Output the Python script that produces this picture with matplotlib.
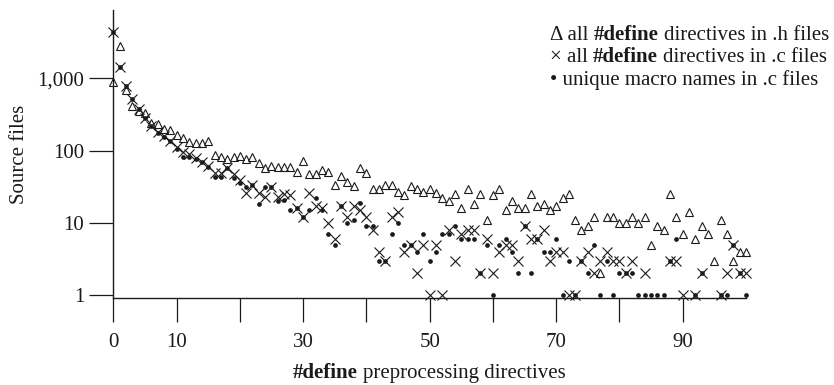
import numpy as np
import matplotlib
matplotlib.use("Agg")
import matplotlib.pyplot as plt
from matplotlib.ticker import FixedLocator, FixedFormatter, NullLocator
from matplotlib.offsetbox import TextArea, HPacker, AnnotationBbox

plt.rcParams['font.family'] = ['Liberation Serif', 'DejaVu Serif']

nan = np.nan
x = list(range(0, 101))

h_files = [900, 2800, 680, 415, 355, 330, 243, 234, 197, 193,
           164, 148, 133, 129, 126, 136, 88, 82, 76, 82,
           84, 76, 82, 68, 57, 61, 60, 60, 60, 51,
           72, 47, 48, 54, 51, 33, 45, 37, 32, 57,
           49, 29, 29, 33, 33, 27, 24, 32, 29, 27,
           29, 26, 22, 20, 25, 16, 29, 18, 25, 11,
           24, 29, 15, 20, 16, 16, 25, 17, 18, 15,
           17, 22, 25, 11, 8, 9, 12, 2, 12, 12,
           10, 10, 12, 10, 12, 5, 9, 8, 25, 12,
           7, 14, 6, 9, 7, 3, 11, 7, 3, 4,
           4]

c_files = [4400, 1450, 785, 519, 377, 286, 221, 180, 160, 138,
           113, 95, 90, 78, 69, 62, 49, 49, 57, 47,
           39, 26, 33, 26, 23, 31, 23, 25, 24, 16,
           12, 26, 17, 16, 10, 6, 17, 12, 17, 15,
           12, 8, 4, 3, 12, 14, 4, 5, 2, 5,
           1, 5, 1, 8, 3, 7, 8, 8, 2, 6,
           2, 4, 5, 5, 3, 9, 6, 6, 8, 3,
           4, 4, 1, 1, 3, 4, 2, 3, 4, 3,
           3, 2, 3, nan, 2, nan, nan, nan, 3, 3,
           1, nan, 1, 2, nan, nan, 1, 2, 5, 2,
           2]

c_unique = [4400, 1450, 785, 519, 377, 286, 221, 174, 156, 136,
            104, 81, 81, 77, 69, 60, 43, 43, 57, 42,
            36, 31, 33, 18, 31, 31, 20, 21, 15, 16,
            12, 15, 22, 15, 7, 5, 17, 10, 11, 19,
            9, 9, 3, 3, 7, 10, 5, 5, 4, 7,
            3, 4, 7, 7, 9, 6, 6, 6, 2, 5,
            1, 5, 6, 4, 2, 9, 2, 6, 4, 4,
            6, 1, 3, 1, 3, 2, 5, 1, 3, 1,
            2, 2, 2, 1, 1, 1, 1, 1, 3, 6,
            nan, nan, 1, 2, nan, nan, 1, 1, 5, 2,
            1]

x_ticks = [0, 10, 20, 30, 40, 50, 60, 70, 80, 90]
x_tick_labels = ['0', '10', '', '30', '', '50', '', '70', '', '90']
y_ticks = [1, 10, 100, 1000]
y_tick_labels = ['1', '10', '100', '1,000']

ink = '#1a1a1a'
FS = 15
fig = plt.figure(figsize=(8.34, 3.85), dpi=100)
ax = fig.add_axes([113.3/834, (385-298.3)/385, (746-113.3)/834, (298.3-10)/385])

ax.plot(x, h_files, linestyle='none', marker='^', ms=6.3, mfc='none', mec=ink, mew=0.8, clip_on=False, zorder=3)
ax.plot(x, c_files, linestyle='none', marker='x', ms=7.0, mec=ink, mew=0.8, clip_on=False, zorder=3)
ax.plot(x, c_unique, linestyle='none', marker='o', ms=3.4, mfc=ink, mec=ink, mew=0, clip_on=False, zorder=4)

ax.set_yscale('log')
ax.set_xlim(0, 100)
ax.set_ylim(10**(-3.3/72.2), 10**(285/72.2))

for s in ['top', 'right']:
    ax.spines[s].set_visible(False)
for s in ['left', 'bottom']:
    ax.spines[s].set_color(ink)
    ax.spines[s].set_linewidth(1.0)

ax.xaxis.set_major_locator(FixedLocator(x_ticks))
ax.xaxis.set_major_formatter(FixedFormatter(x_tick_labels))
ax.xaxis.set_minor_locator(NullLocator())
ax.yaxis.set_major_locator(FixedLocator(y_ticks))
ax.yaxis.set_major_formatter(FixedFormatter(y_tick_labels))
ax.yaxis.set_minor_locator(NullLocator())
ax.tick_params(axis='both', direction='out', length=17, width=0.9, color=ink,
               labelsize=FS, labelcolor=ink)
ax.tick_params(axis='x', pad=8)
ax.tick_params(axis='y', pad=4)

ax.set_ylabel('Source files', fontsize=FS, color=ink, labelpad=6)


def rich_line(parts, xy, align):
    kids = [TextArea(t, textprops=dict(fontsize=FS, color=ink, fontweight=w)) for t, w in parts]
    pack = HPacker(children=kids, sep=3.7, pad=0, align='baseline')
    ab = AnnotationBbox(pack, xy, xycoords='figure pixels', box_alignment=align,
                        frameon=False, pad=0)
    fig.add_artist(ab)


rich_line([('#define', 'bold'), ('preprocessing directives', 'normal')], (429, 385 - 373), (0.5, 0.5))

legend_lines = [
    [('Δ all', 'normal'), ('#define', 'bold'), ('directives in .h files', 'normal')],
    [('× all', 'normal'), ('#define', 'bold'), ('directives in .c files', 'normal')],
    [('• unique macro names in .c files', 'normal')],
]
for i, parts in enumerate(legend_lines):
    rich_line(parts, (550, 385 - (35 + 22.5 * i)), (0.0, 0.5))

fig.savefig('out.png', dpi=100)
